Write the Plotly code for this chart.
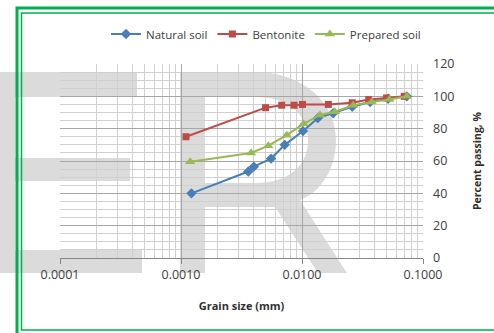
import plotly.graph_objects as go

# ---- data ----
natural_x = [0.00122, 0.0036, 0.0040, 0.00555, 0.0072, 0.0102, 0.0135, 0.0181, 0.026, 0.0366, 0.0515, 0.0735]
natural_y = [40, 53.5, 56.5, 61.5, 70, 78.5, 86.5, 89.5, 93.5, 96.5, 98.5, 100]
bent_x = [0.0011, 0.0050, 0.0068, 0.0086, 0.0101, 0.0165, 0.026, 0.0356, 0.050, 0.070]
bent_y = [75, 93, 94.5, 94.5, 95, 95, 96, 98, 99, 100]
prep_x = [0.00119, 0.0038, 0.00527, 0.00747, 0.0103, 0.0141, 0.0187, 0.0265, 0.0377, 0.0527, 0.0735]
prep_y = [59.5, 65, 69.5, 76, 83, 88.5, 90.5, 94.5, 96.5, 98, 100]
x_tickvals = [0.0001, 0.001, 0.01, 0.1]
x_ticktext = ["0.0001", "0.0010", "0.0100", "0.1000"]

W, H = 494, 333
L, R, T, B = 60, 71, 64, 75
PW, PH = W - L - R, H - T - B

def px(x):
    return (x - L) / PW

def py(y):
    return (H - B - y) / PH

def P(x, y):
    return f"{px(x):.4f},{py(y):.4f}"

FONT = "'Open Sans', Lato, Arial"

fig = go.Figure()
fig.add_trace(go.Scatter(x=natural_x, y=natural_y, name="Natural soil", mode="lines+markers",
                         line=dict(color="#4a7ebb", width=2),
                         marker=dict(symbol="diamond", size=8, color="#4a7ebb")))
fig.add_trace(go.Scatter(x=bent_x, y=bent_y, name="Bentonite", mode="lines+markers",
                         line=dict(color="#be4b48", width=2),
                         marker=dict(symbol="square", size=7, color="#be4b48")))
fig.add_trace(go.Scatter(x=prep_x, y=prep_y, name="Prepared soil", mode="lines+markers",
                         line=dict(color="#98b954", width=2),
                         marker=dict(symbol="triangle-up", size=9, color="#98b954")))

minor_x = [k * 10 ** e for e in (-4, -3, -2) for k in range(2, 10)]

fig.update_layout(
    width=W, height=H,
    margin=dict(l=L, r=R, t=T, b=B),
    paper_bgcolor="white", plot_bgcolor="rgba(0,0,0,0)",
    font=dict(family=FONT, size=12, color="#404040"),
    showlegend=True,
    legend=dict(orientation="h", x=px(266), y=py(34), xanchor="center", yanchor="middle",
                font=dict(size=11.5, color="#404040"), itemwidth=30, tracegroupgap=0,
                bgcolor="rgba(0,0,0,0)"),
    xaxis=dict(type="log", range=[-4, -1], tickvals=x_tickvals, ticktext=x_ticktext,
               showgrid=True, gridcolor="#a6a6a6", gridwidth=1,
               minor=dict(tickvals=minor_x, showgrid=True, gridcolor="#d0d0d0", gridwidth=1),
               showline=True, linecolor="#868686", linewidth=1,
               ticks="outside", ticklen=5, tickcolor="#868686",
               zeroline=False,
               title=dict(text="<b>Grain size (mm)</b>", font=dict(size=11, color="#303030"), standoff=20),
               tickfont=dict(size=12.5)),
    yaxis=dict(side="right", range=[0, 120], dtick=20, showgrid=True, gridcolor="#a6a6a6",
               minor=dict(dtick=5, showgrid=True, gridcolor="#d0d0d0"),
               showline=False, zeroline=False, ticks="", ticklabelstandoff=9,
               title=dict(text="<b>Percent passing, %</b>", font=dict(size=10.5, color="#303030"), standoff=20),
               tickfont=dict(size=12.5)),
)

# watermark (approximate "ER")
wm = "rgba(0,0,0,0.14)"
shapes = []
for (x0, y0, x1, y1) in [(0, 72, 15, 273), (15, 72, 137, 97), (15, 158, 130, 181), (15, 250, 142, 273)]:
    shapes.append(dict(type="rect", xref="paper", yref="paper", x0=px(x0), y0=py(y1), x1=px(x1), y1=py(y0),
                       fillcolor=wm, line=dict(width=0), layer="between"))
r_path = ("M " + P(180, 72) + " L " + P(255, 72) + " C " + P(300, 72) + " " + P(336, 100) + " " + P(336, 140)
          + " C " + P(336, 175) + " " + P(315, 195) + " " + P(300, 200)
          + " L " + P(347, 273) + " L " + P(318, 273) + " L " + P(275, 207)
          + " L " + P(205, 207) + " L " + P(205, 273) + " L " + P(180, 273) + " Z"
          + " M " + P(205, 97) + " L " + P(205, 183) + " L " + P(255, 183)
          + " C " + P(290, 183) + " " + P(308, 165) + " " + P(308, 140)
          + " C " + P(308, 115) + " " + P(290, 97) + " " + P(255, 97) + " Z")
shapes.append(dict(type="path", xref="paper", yref="paper", path=r_path, fillcolor=wm,
                   line=dict(width=0), layer="between", fillrule="evenodd"))

# green double frame
shapes.append(dict(type="rect", xref="paper", yref="paper", x0=px(17), y0=py(345), x1=px(510), y1=py(8),
                   line=dict(color="#00b050", width=3), fillcolor="rgba(0,0,0,0)", layer="above"))
shapes.append(dict(type="rect", xref="paper", yref="paper", x0=px(21.5), y0=py(330), x1=px(505), y1=py(13),
                   line=dict(color="#00b050", width=1.5), fillcolor="rgba(0,0,0,0)", layer="above"))
fig.update_layout(shapes=shapes)

fig.write_html("out.html")
